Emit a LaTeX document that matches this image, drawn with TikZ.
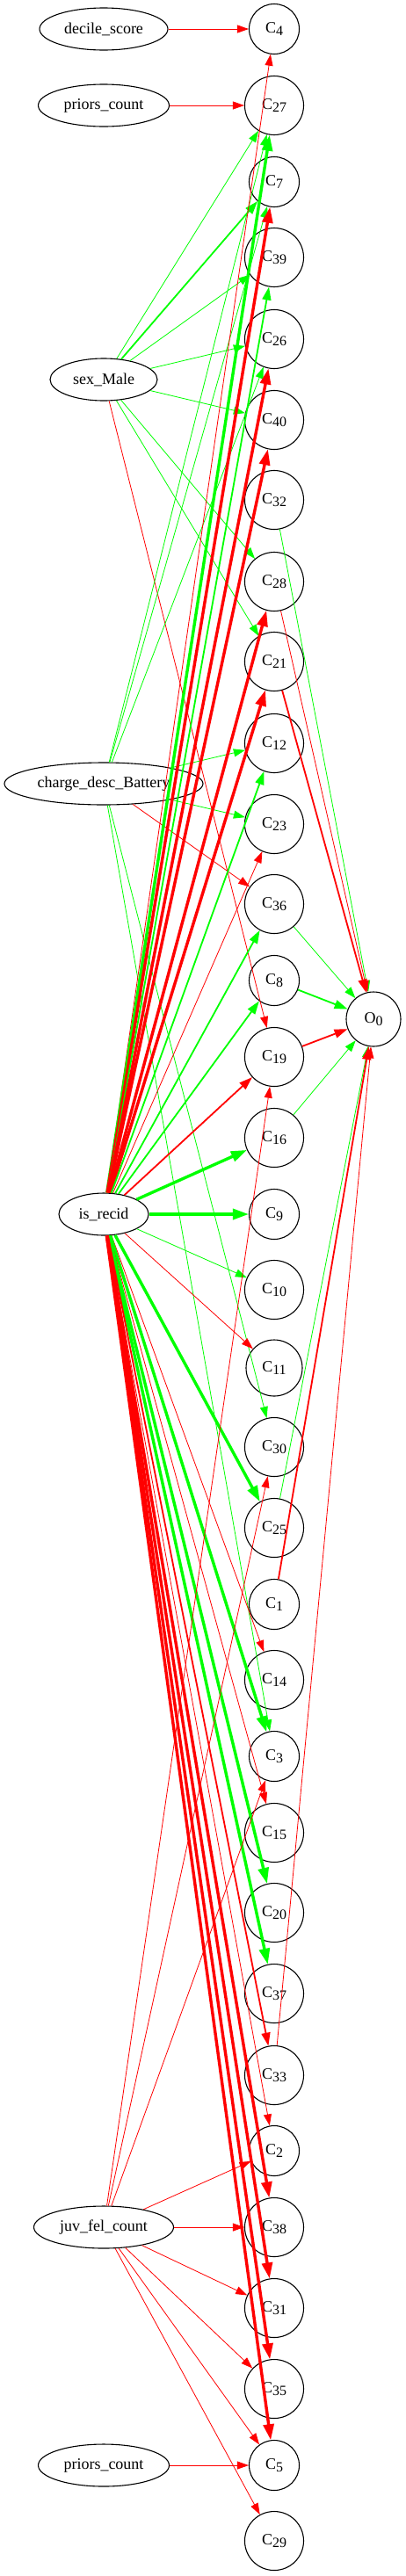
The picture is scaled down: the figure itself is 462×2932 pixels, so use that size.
\documentclass[tikz,border=0pt]{standalone}
\usepackage{fontspec}
\setmainfont{Liberation Serif}
\usetikzlibrary{shapes.geometric, arrows.meta, positioning}
\definecolor{posgreen}{RGB}{0,255,0}
\definecolor{negred}{RGB}{255,0,0}
\tikzstyle{feature} = [ellipse, draw, line width = 1.1pt, inner sep = 0pt, minimum height = 48pt, font = \fontsize{18}{20}\selectfont]
\tikzstyle{unit} = [circle, draw, line width = 1.1pt, inner sep = 0pt, minimum size = 67pt, font = \fontsize{18}{20}\selectfont]
\tikzstyle{unitsm} = [unit, minimum size = 57pt]
\tikzstyle{posthin} = [draw = posgreen, line width = 0.8pt, -{Triangle[length = 13pt, width = 9pt]}]
\tikzstyle{posmid} = [draw = posgreen, line width = 1.8pt, -{Triangle[length = 15pt, width = 10pt]}]
\tikzstyle{posthick} = [draw = posgreen, line width = 3.4pt, -{Triangle[length = 18pt, width = 12pt]}]
\tikzstyle{negthin} = [draw = negred, line width = 0.8pt, -{Triangle[length = 13pt, width = 9pt]}]
\tikzstyle{negmid} = [draw = negred, line width = 1.8pt, -{Triangle[length = 15pt, width = 10pt]}]
\tikzstyle{negthick} = [draw = negred, line width = 3.4pt, -{Triangle[length = 18pt, width = 12pt]}]
\newcommand{\idx}[1]{\raisebox{-3.5pt}{\fontsize{16}{16}\selectfont #1}}

\begin{document}
\begin{tikzpicture}[x = 1pt, y = 1pt]
\useasboundingbox (0, 0) rectangle (462, -2932);

% inputs
\node (decile) [feature, minimum width = 146pt] at (118, -33) {decile\_score};
\node (priorsa) [feature, minimum width = 149pt] at (118, -120) {priors\_count};
\node (sexmale) [feature, minimum width = 122pt] at (118, -432) {sex\_Male};
\node (charge) [feature, minimum width = 226pt] at (118, -892) {charge\_desc\_Battery};
\node (recid) [feature, minimum width = 102pt] at (118, -1382) {is\_recid};
\node (juvfel) [feature, minimum width = 159pt] at (118, -2535) {juv\_fel\_count};
\node (priorsb) [feature, minimum width = 149pt] at (118, -2806) {priors\_count};

% hidden units
\node (c4) [unitsm] at (312, -33) {C\idx{4}};
\node (c27) [unit] at (312, -120) {C\idx{27}};
\node (c7) [unitsm] at (312, -207) {C\idx{7}};
\node (c39) [unit] at (312, -293) {C\idx{39}};
\node (c26) [unit] at (312, -386) {C\idx{26}};
\node (c40) [unit] at (312, -478) {C\idx{40}};
\node (c32) [unit] at (312, -569) {C\idx{32}};
\node (c28) [unit] at (312, -662) {C\idx{28}};
\node (c21) [unit] at (312, -753) {C\idx{21}};
\node (c12) [unit] at (312, -846) {C\idx{12}};
\node (c23) [unit] at (312, -938) {C\idx{23}};
\node (c36) [unit] at (312, -1029) {C\idx{36}};
\node (c8) [unitsm] at (312, -1116) {C\idx{8}};
\node (c19) [unit] at (312, -1203) {C\idx{19}};
\node (c16) [unit] at (312, -1295) {C\idx{16}};
\node (c9) [unitsm] at (312, -1382) {C\idx{9}};
\node (c10) [unit] at (312, -1468) {C\idx{10}};
\node (c11) [unit, minimum size = 64pt] at (312, -1557) {C\idx{11}};
\node (c30) [unit] at (312, -1647) {C\idx{30}};
\node (c25) [unit] at (312, -1739) {C\idx{25}};
\node (c1) [unitsm] at (312, -1826) {C\idx{1}};
\node (c14) [unit] at (312, -1912) {C\idx{14}};
\node (c3) [unitsm] at (312, -1999) {C\idx{3}};
\node (c15) [unit] at (312, -2086) {C\idx{15}};
\node (c20) [unit] at (312, -2177) {C\idx{20}};
\node (c37) [unit] at (312, -2269) {C\idx{37}};
\node (c33) [unit] at (312, -2362) {C\idx{33}};
\node (c2) [unitsm] at (312, -2448) {C\idx{2}};
\node (c38) [unit] at (312, -2535) {C\idx{38}};
\node (c31) [unit] at (312, -2627) {C\idx{31}};
\node (c35) [unit] at (312, -2719) {C\idx{35}};
\node (c5) [unitsm] at (312, -2806) {C\idx{5}};
\node (c29) [unit] at (312, -2892) {C\idx{29}};

% output
\node (o0) [unit, minimum size = 62pt] at (425, -1160) {O\idx{0}};

% decile_score, priors_count
\draw[negthin] (decile) -- (c4);
\draw[negthin] (priorsa) -- (c27);
\draw[negthin] (priorsb) -- (c5);

% sex_Male
\draw[posthin] (sexmale) -- (c27);
\draw[posmid] (sexmale) -- (c7);
\draw[posthin] (sexmale) -- (c39);
\draw[posthin] (sexmale) -- (c26);
\draw[posthin] (sexmale) -- (c40);
\draw[posthin] (sexmale) -- (c28);
\draw[posthin] (sexmale) -- (c21);
\draw[negthin] (sexmale) -- (c19);

% charge_desc_Battery
\draw[posthin] (charge) -- (c27);
\draw[posthin] (charge) -- (c7);
\draw[posthin] (charge) -- (c26);
\draw[posthin] (charge) -- (c12);
\draw[posthin] (charge) -- (c23);
\draw[negthin] (charge) -- (c36);
\draw[posthin] (charge) -- (c30);
\draw[posthin] (charge) -- (c3);

% is_recid
\draw[negthin] (recid) -- (c4);
\draw[posthick] (recid) -- (c27);
\draw[negthick] (recid) -- (c7);
\draw[posmid] (recid) -- (c39);
\draw[negthick] (recid) -- (c26);
\draw[negthick] (recid) -- (c40);
\draw[negthick] (recid) -- (c28);
\draw[negthick] (recid) -- (c21);
\draw[posmid] (recid) -- (c12);
\draw[negthin] (recid) -- (c23);
\draw[posmid] (recid) -- (c36);
\draw[posmid] (recid) -- (c8);
\draw[negmid] (recid) -- (c19);
\draw[posthick] (recid) -- (c16);
\draw[posthick] (recid) -- (c9);
\draw[posthin] (recid) -- (c10);
\draw[negthin] (recid) -- (c11);
\draw[posthick] (recid) -- (c25);
\draw[negthin] (recid) -- (c14);
\draw[posthick] (recid) -- (c3);
\draw[negthin] (recid) -- (c15);
\draw[posthick] (recid) -- (c20);
\draw[posthick] (recid) -- (c37);
\draw[negmid] (recid) -- (c33);
\draw[negthin] (recid) -- (c2);
\draw[negthick] (recid) -- (c38);
\draw[negthick] (recid) -- (c31);
\draw[negthick] (recid) -- (c35);
\draw[negthick] (recid) -- (c5);

% juv_fel_count
\draw[negthin] (juvfel) -- (c19);
\draw[negthin] (juvfel) -- (c30);
\draw[negthin] (juvfel) -- (c3);
\draw[negthin] (juvfel) -- (c2);
\draw[negthin] (juvfel) -- (c38);
\draw[negthin] (juvfel) -- (c31);
\draw[negthin] (juvfel) -- (c35);
\draw[negthin] (juvfel) -- (c5);
\draw[negthin] (juvfel) -- (c29);

% into the output
\draw[posthin] (c32) -- (o0);
\draw[negthin] (c28) -- (o0);
\draw[negmid] (c21) -- (o0);
\draw[posthin] (c36) -- (o0);
\draw[posmid] (c8) -- (o0);
\draw[negmid] (c19) -- (o0);
\draw[posthin] (c16) -- (o0);
\draw[posthin] (c25) -- (o0);
\draw[negmid] (c1) -- (o0);
\draw[negthin] (c33) -- (o0);
\end{tikzpicture}
\end{document}
